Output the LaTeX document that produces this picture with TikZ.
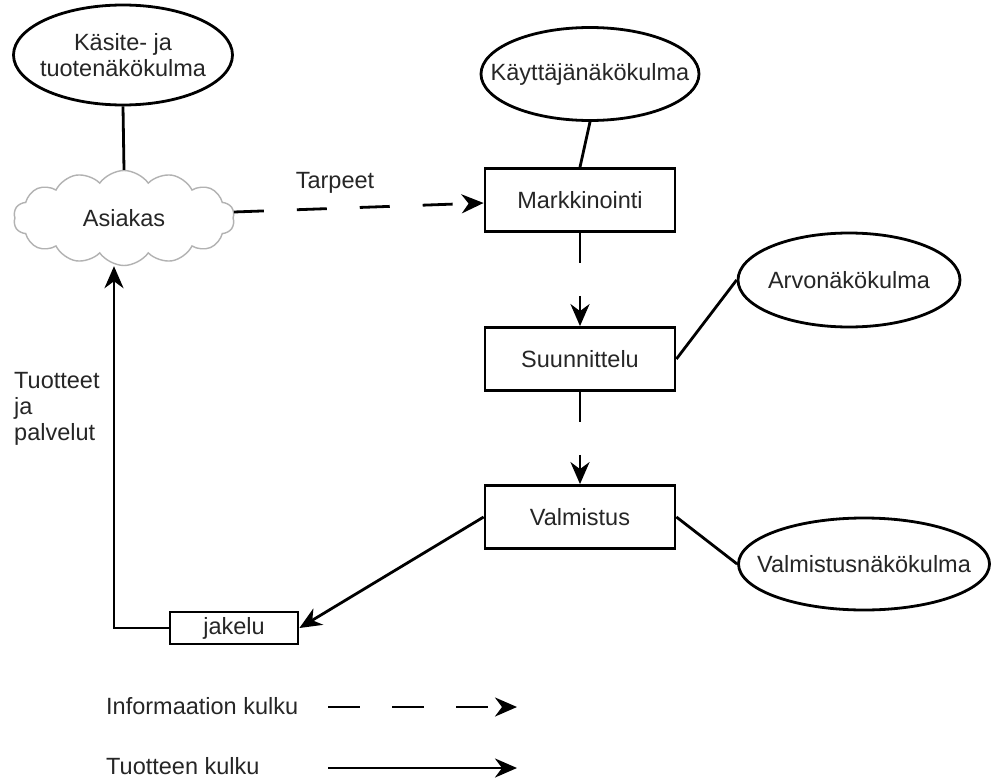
\documentclass[tikz,border=0pt]{standalone}
\usepackage{fontspec}
\setmainfont{Liberation Sans}
\usetikzlibrary{shapes.geometric,shapes.symbols,arrows.meta}
\begin{document}
\begin{tikzpicture}[x=1pt,y=-1pt,
  every node/.style={font=\fontsize{23.5}{26}\selectfont, text=black!85},
  persp/.style={ellipse, draw, line width=2.8pt, inner xsep=-40pt, inner ysep=-12pt},
  stepbox/.style={rectangle, draw, line width=2.8pt, minimum width=190pt, minimum height=63pt, inner sep=0pt},
  conn/.style={line width=2.8pt},
  tip/.style={-{Stealth[length=22pt,width=19pt,inset=7pt]}},
  info/.style={conn, tip, dash pattern=on 30pt off 33pt},
  prod/.style={conn, tip}
]
\useasboundingbox (0,0) rectangle (992,778);
\fill[white] (0,0) rectangle (992,778);

\node[persp, minimum width=219pt, minimum height=100pt, align=center] (kasite) at (123,55) {Käsite- ja\\tuotenäkökulma};
\node[cloud, cloud puffs=14, cloud puff arc=110, cloud ignores aspect, draw=black!30, line width=1.4pt, minimum width=221pt, minimum height=95pt, inner sep=0pt] (asiakas) at (124,218) {Asiakas};
\node[persp, minimum width=218pt, minimum height=93pt] (kayttaja) at (590,74) {Käyttäjänäkökulma};
\node[stepbox] (mark) at (580,200) {Markkinointi};
\node[stepbox] (suun) at (580,359) {Suunnittelu};
\node[stepbox] (valm) at (580,517) {Valmistus};
\node[persp, minimum width=222pt, minimum height=94pt] (arvo) at (849,280) {Arvonäkökulma};
\node[persp, minimum width=251pt, minimum height=92pt] (valmn) at (864,564) {Valmistusnäkökulma};
\node[rectangle, draw, line width=2.8pt, minimum width=128pt, minimum height=32pt, inner sep=0pt] (jakelu) at (234,628) {jakelu};

\node[anchor=south] (tarpeet) at (335,197) {Tarpeet};
\node[anchor=north west, align=left, inner sep=0pt] (tuotteet) at (14,372) {Tuotteet\\ja\\palvelut};

\node[anchor=west, inner sep=0pt] (leginfo) at (106,706) {Informaation kulku};
\node[anchor=west, inner sep=0pt] (legprod) at (106,766) {Tuotteen kulku};
\coordinate (li1) at (328,707);
\coordinate (li2) at (517,707);
\coordinate (lp1) at (328,768);
\coordinate (lp2) at (517,768);
\coordinate (corner) at (114,628);

\draw[conn] (kasite.south) -- (asiakas.north);
\draw[info] ([yshift=6pt]asiakas.east) -- ([yshift=-3pt]mark.west);
\draw[conn] (kayttaja.south) -- (mark.north);
\draw[info] (mark.south) -- (suun.north);
\draw[info] (suun.south) -- (valm.north);
\draw[conn] (suun.east) -- (arvo.west);
\draw[conn] (valm.east) -- (valmn.west);
\draw[prod] (valm.west) -- (jakelu.east);
\draw[prod] (jakelu.west) -- (corner) -- (corner |- asiakas.south);

\draw[info, dash pattern=on 32pt off 32pt] (li1) -- (li2);
\draw[prod] (lp1) -- (lp2);
\end{tikzpicture}
\end{document}
